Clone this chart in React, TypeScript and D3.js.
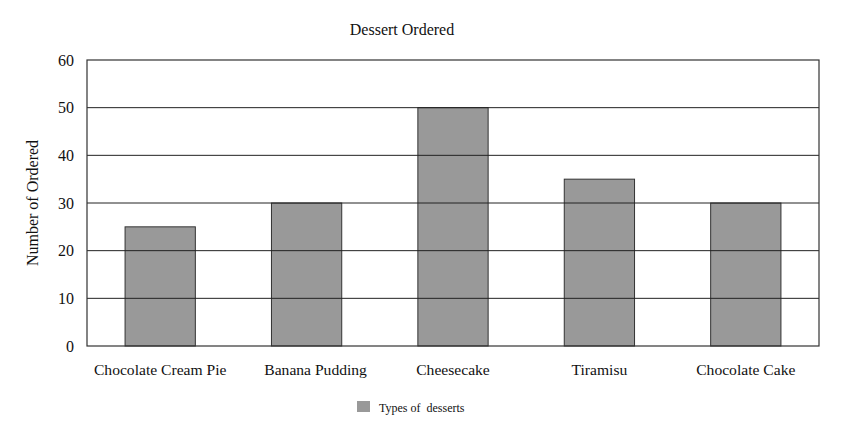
import React from "react";
import * as d3 from "d3";

const categories = ["Chocolate Cream Pie", "Banana Pudding", "Cheesecake", "Tiramisu", "Chocolate Cake"];
const values = [25, 30, 50, 35, 30];
const yTicks = [0, 10, 20, 30, 40, 50, 60];
const title = "Dessert Ordered";
const yLabel = "Number of Ordered";
const legendLabel = "Types of  desserts";

const W = 845, H = 437;
const m = { left: 87, right: 819, top: 60, bottom: 346 };
const labelShift: Record<string, number> = { "Banana Pudding": 9 };

export default function App() {
  const x = d3.scaleBand<string>().domain(categories).range([m.left, m.right]).paddingInner(0.52).paddingOuter(0.26);
  const y = d3.scaleLinear().domain([0, 60]).range([m.bottom, m.top]);
  const font = "'Liberation Serif', 'Times New Roman', serif";
  return (
    <svg width={W} height={H} style={{ position: "absolute", left: 0, top: 0, background: "#fff" }} fontFamily={font}>
      <rect x={0} y={0} width={W} height={H} fill="#fff" />
      <text x={402} y={35} textAnchor="middle" fontSize={16} fill="#111">{title}</text>
      {yTicks.map((t) => (
        <text key={t} x={74} y={y(t) + 5.5} textAnchor="end" fontSize={16} fill="#111">{t}</text>
      ))}
      {categories.map((c, i) => (
        <g key={c}>
          <rect x={x(c)} y={y(values[i])} width={x.bandwidth()} height={y(0) - y(values[i])} fill="#999999" stroke="#333" strokeWidth={1} />
          <text x={(x(c) as number) + x.bandwidth() / 2 + (labelShift[c] || 0)} y={375} textAnchor="middle" fontSize={15.6} fill="#111">{c}</text>
        </g>
      ))}
      {yTicks.filter((t) => t > 0 && t < 60).map((t) => (
        <line key={"g" + t} x1={m.left} x2={m.right} y1={y(t)} y2={y(t)} stroke="#222" strokeWidth={1} />
      ))}
      <rect x={m.left} y={m.top} width={m.right - m.left} height={m.bottom - m.top} fill="none" stroke="#333" strokeWidth={1.2} />
      <text transform={`translate(38,${(m.top + m.bottom) / 2}) rotate(-90)`} textAnchor="middle" fontSize={16} fill="#111">{yLabel}</text>
      <rect x={357} y={401} width={13} height={11} fill="#999999" />
      <text x={379} y={412} fontSize={12} fill="#111" style={{ whiteSpace: "pre" }}>{legendLabel}</text>
    </svg>
  );
}
